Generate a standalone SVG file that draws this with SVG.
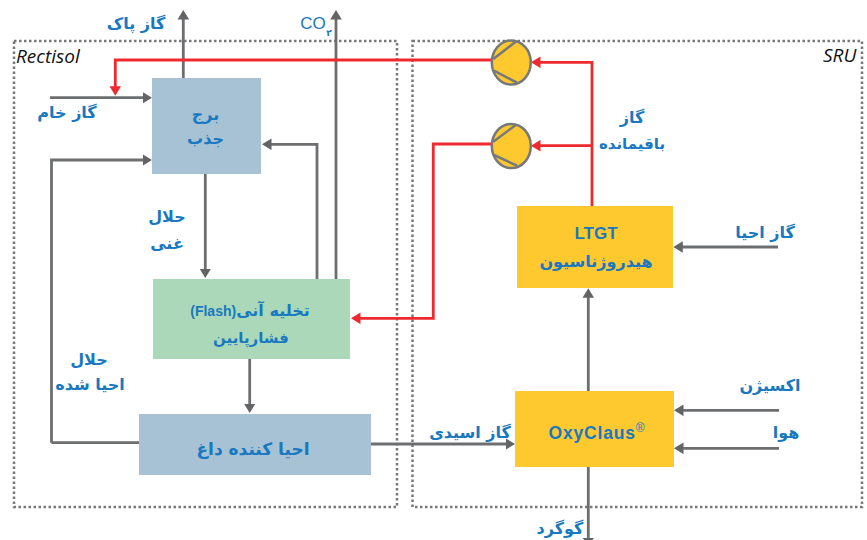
<svg xmlns="http://www.w3.org/2000/svg" width="867" height="540" viewBox="0 0 867 540">
<defs>
<marker id="ag" markerUnits="userSpaceOnUse" markerWidth="10" markerHeight="12" refX="5.500" refY="6" orient="auto"><path d="M0 0.200L9.500 6L0 11.800Z" fill="#636466"/></marker>
<marker id="ar" markerUnits="userSpaceOnUse" markerWidth="10" markerHeight="12" refX="5.500" refY="6" orient="auto"><path d="M0 0.200L9.500 6L0 11.800Z" fill="#ee2a2e"/></marker>
</defs>
<style>
.zone{fill:none;stroke:#77787a;stroke-width:2.500;stroke-dasharray:2.500 2.500}
.g{fill:none;stroke:#6d6e70;stroke-width:2.800}
.ga{fill:none;stroke:#6d6e70;stroke-width:2.800;marker-end:url(#ag)}
.r{fill:none;stroke:#ee2a2e;stroke-width:2.800}
.ra{fill:none;stroke:#ee2a2e;stroke-width:2.800;marker-end:url(#ar)}
.t{font-family:"DejaVu Sans","Liberation Sans",sans-serif;font-weight:bold;font-size:16px;fill:#1878c0;text-anchor:middle}
.l{font-family:"Liberation Sans",Arial,sans-serif;font-weight:bold;fill:#1878c0;text-anchor:middle}
.co{font-family:"Liberation Sans",Arial,sans-serif;font-size:17px;fill:#1878c0;text-anchor:middle}
.z{font-family:"Open Sans","Liberation Sans",sans-serif;font-style:italic;font-size:19px;fill:#111}
.comp{fill:#fec92f;stroke:#77787a;stroke-width:2.500}
.cl{fill:none;stroke:#77787a;stroke-width:2.500}
</style>
<g id="zones">
<rect id="zone-rectisol" class="zone" x="14" y="41" width="383" height="466"/>
<rect id="zone-sru" class="zone" x="412.500" y="41" width="449.500" height="466"/>
<text class="z" x="16" y="63">Rectisol</text>
<text class="z" x="823" y="62">SRU</text>
</g>
<g id="connectors">
<path class="ga" d="M183.300 78V14"/>
<path class="ga" d="M336 279V14"/>
<path class="ga" d="M50 97.700H148"/>
<path class="ga" d="M51.500 442.700V160H148"/>
<path class="g" d="M51.500 442.700H139"/>
<path class="ga" d="M205.300 174V274"/>
<path class="ga" d="M317 279V144.300H266"/>
<path class="ga" d="M249.700 359V409"/>
<path class="ga" d="M371 444H511"/>
<path class="ga" d="M588.300 391V292.300"/>
<path class="ga" d="M588.300 467V543"/>
<path class="ga" d="M778 247H677.300"/>
<path class="ga" d="M779 410.300H678"/>
<path class="ga" d="M779 448.300H678"/>
<path class="ra" d="M492 60H115.300V91.700"/>
<path class="ra" d="M592 206V62.300H535"/>
<path class="ra" d="M592 145.700H535"/>
<path class="ra" d="M492 144H433.300V318.300H355"/>
</g>
<g id="node-absorber"><rect x="152" y="78" width="109" height="96" fill="#a6c2d4"/>
<text class="t" x="205.500" y="120" direction="rtl">برج</text><text class="t" x="205.500" y="144" direction="rtl">جذب</text></g>
<g id="node-flash"><rect x="153" y="279" width="197" height="80" fill="#aad8b8"/>
<text class="t" x="250" y="316" direction="rtl">تخلیه آنی<tspan class="l" style="font-size:14px">(Flash)</tspan></text><text class="t" x="251" y="343" direction="rtl" style="font-size:15px">فشارپایین</text></g>
<g id="node-regen"><rect x="139" y="414" width="232" height="61" fill="#a6c2d4"/>
<text class="t" x="253" y="455" direction="rtl" style="font-size:17px">احیا کننده داغ</text></g>
<g id="node-ltgt"><rect x="517" y="206" width="156" height="82" fill="#fec92f"/>
<text class="l" x="596" y="239" style="font-size:17px">LTGT</text><text class="t" x="596" y="267" direction="rtl">هیدروژناسیون</text></g>
<g id="node-oxyclaus"><rect x="515" y="391" width="159" height="76" fill="#fec92f"/>
<text class="l" x="597" y="439" style="font-size:17.500px;letter-spacing:.8px">OxyClaus<tspan style="font-size:12px;font-weight:normal" dy="-7">®</tspan></text></g>
<g id="node-compressor-1"><ellipse class="comp" cx="511.300" cy="62.500" rx="19.500" ry="22"/><path class="cl" d="M515.700 41.700L493.300 59M494 70.700L517 82.700"/></g>
<g id="node-compressor-2"><ellipse class="comp" cx="511.300" cy="146" rx="19.500" ry="22"/><path class="cl" d="M515.700 125L493.300 141.700M494 155L517 165.700"/></g>
<g id="labels">
<text class="t" x="136" y="29" direction="rtl">گاز پاک</text>
<text class="co" x="313" y="29">CO</text>
<text class="t" x="329" y="36" style="font-size:9px">۲</text>
<text class="t" x="67" y="118" direction="rtl">گاز خام</text>
<text class="t" x="167" y="222" direction="rtl">حلال</text>
<text class="t" x="167" y="249" direction="rtl">غنی</text>
<text class="t" x="89" y="365" direction="rtl">حلال</text>
<text class="t" x="90" y="390" direction="rtl">احیا شده</text>
<text class="t" x="632" y="123" direction="rtl">گاز</text>
<text class="t" x="632" y="149" direction="rtl" style="font-size:15px">باقیمانده</text>
<text class="t" x="765" y="238" direction="rtl">گاز احیا</text>
<text class="t" x="770" y="391" direction="rtl">اکسیژن</text>
<text class="t" x="786" y="438" direction="rtl">هوا</text>
<text class="t" x="470" y="438" direction="rtl">گاز اسیدی</text>
<text class="t" x="560" y="534" direction="rtl">گوگرد</text>
</g>
</svg>
